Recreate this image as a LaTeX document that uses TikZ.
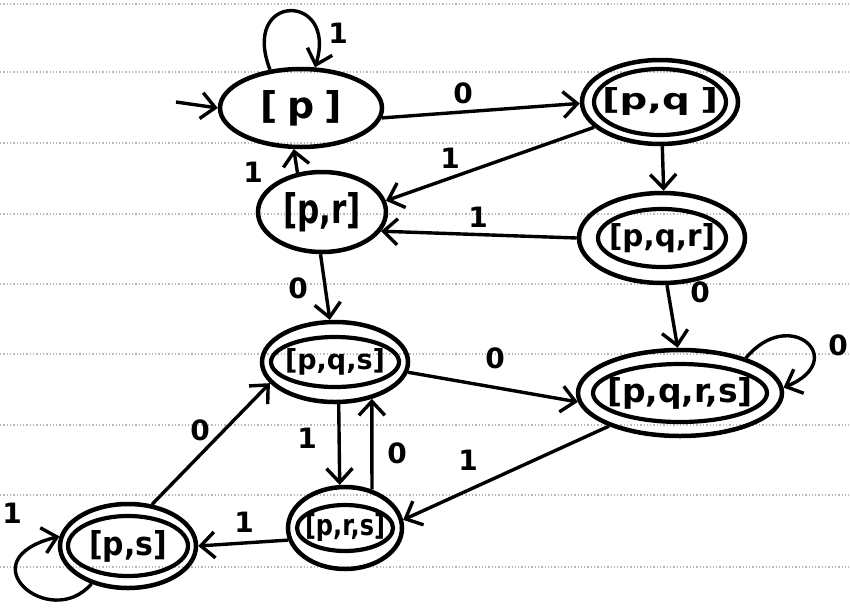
\documentclass[tikz,border=0pt]{standalone}
\usepackage{fontspec}
\usetikzlibrary{shapes.geometric,arrows.meta}
\newfontfamily\hand{DejaVu Sans}
\newcommand{\tx}[3]{\makebox[0pt]{\resizebox{#1}{#2}{#3}}}
\begin{document}
\begin{tikzpicture}[x=1pt,y=-1pt,
  st/.style={ellipse, draw, line width=4.5pt, inner sep=0pt, font=\hand\bfseries\fontsize{30}{34}\selectfont},
  inr/.style={line width=4.2pt},
  arr/.style={line width=3.4pt, -{Straight Barb[length=14pt,width=26pt,line width=3.4pt]}},
  lab/.style={font=\hand\bfseries\fontsize{28}{32}\selectfont, inner sep=0pt},
  paper/.style={dotted, line width=1.3pt, color=gray!55}]
\useasboundingbox (0,0) rectangle (850,608);
\fill[white] (0,0) rectangle (850,608);
\foreach \yy in {4,72,143,214,284,354,425,495,567}
  \draw[paper] (0,\yy) -- (850,\yy);

% states
\node[st, minimum width=162pt, minimum height=78pt] (p) at (301,108) {\tx{82pt}{28pt}{[\hspace{8pt}p\hspace{8pt}]}};
\node[st, minimum width=156pt, minimum height=84pt] (pq) at (660,102) {\tx{116pt}{22pt}{[p,q\hspace{8pt}]}};
\node[st, minimum width=128pt, minimum height=80pt] (pr) at (322,212) {\tx{78pt}{31pt}{[p,r]}};
\node[st, minimum width=166pt, minimum height=90pt] (pqr) at (662,238) {\tx{106pt}{23pt}{[p,q,r]}};
\node[st, minimum width=146pt, minimum height=80pt] (pqs) at (335,362) {\tx{100pt}{21pt}{[p,q,s]}};
\node[st, minimum width=204pt, minimum height=86pt] (pqrs) at (680,393) {\tx{146pt}{25pt}{[p,q,r,s]}};
\node[st, minimum width=114pt, minimum height=82pt] (prs) at (345,528) {\tx{80pt}{22pt}{[p,r,s]}};
\node[st, minimum width=136pt, minimum height=84pt] (ps) at (128,546) {\tx{78pt}{25pt}{[p,s]}};

% inner rings of accepting states
\draw[inr] (pq.center) ellipse [x radius=66pt, y radius=33pt];
\draw[inr] (pqr.center) ellipse [x radius=64pt, y radius=29pt];
\draw[inr] (pqs.center) ellipse [x radius=64pt, y radius=25pt];
\draw[inr] (pqrs.center) ellipse [x radius=87pt, y radius=29pt];
\draw[inr] (prs.center) ellipse [x radius=48pt, y radius=23pt];
\draw[inr] (ps.center) ellipse [x radius=60pt, y radius=30pt];

% start arrow
\coordinate (s0) at (176,102);
\draw[arr] (s0) -- (p.west);

% transitions
\draw[arr] (p.129) .. controls (240,-8) and (338,-8) .. (p.71);
\draw[arr] (p.-7) -- (pq.181);
\draw[arr] (pq.201) -- (pr.10);
\draw[arr] (pr.122) -- (p.-100);
\draw[arr] (pq.-87) -- (pqr.88);
\draw[arr] (pqr.180) -- (pr.-18);
\draw[arr] (pr.-92) -- (pqs.97);
\draw[arr] (pqr.-84) -- (pqrs.93);
\draw[arr] (pqs.-8) -- (pqrs.185);
\draw[arr] (pqrs.28) .. controls (790,305) and (850,360) .. (pqrs.3);
\draw[arr] (pqs.-85) -- (prs.97);
\draw[arr] (prs.55) -- (pqs.-45);
\draw[arr] (pqrs.205) -- (prs.8);
\draw[arr] (prs.192) -- (ps.east);
\draw[arr] (ps.60) -- (pqs.198);
\draw[arr] (ps.226) .. controls (50,632) and (-35,560) .. (ps.172);

% labels
\node[lab] (l1) at (338,33) {1};
\node[lab] (l2) at (463,93) {0};
\node[lab] (l3) at (450,158) {1};
\node[lab] (l4) at (253,172) {1};
\node[lab] (l5) at (478,217) {1};
\node[lab] (l6) at (298,288) {0};
\node[lab] (l7) at (700,292) {0};
\node[lab] (l8) at (495,358) {0};
\node[lab] (l9) at (838,345) {0};
\node[lab] (l10) at (200,430) {0};
\node[lab] (l11) at (307,438) {1};
\node[lab] (l12) at (397,453) {0};
\node[lab] (l13) at (468,460) {1};
\node[lab] (l14) at (244,522) {1};
\node[lab] (l15) at (12,513) {1};
\end{tikzpicture}
\end{document}
